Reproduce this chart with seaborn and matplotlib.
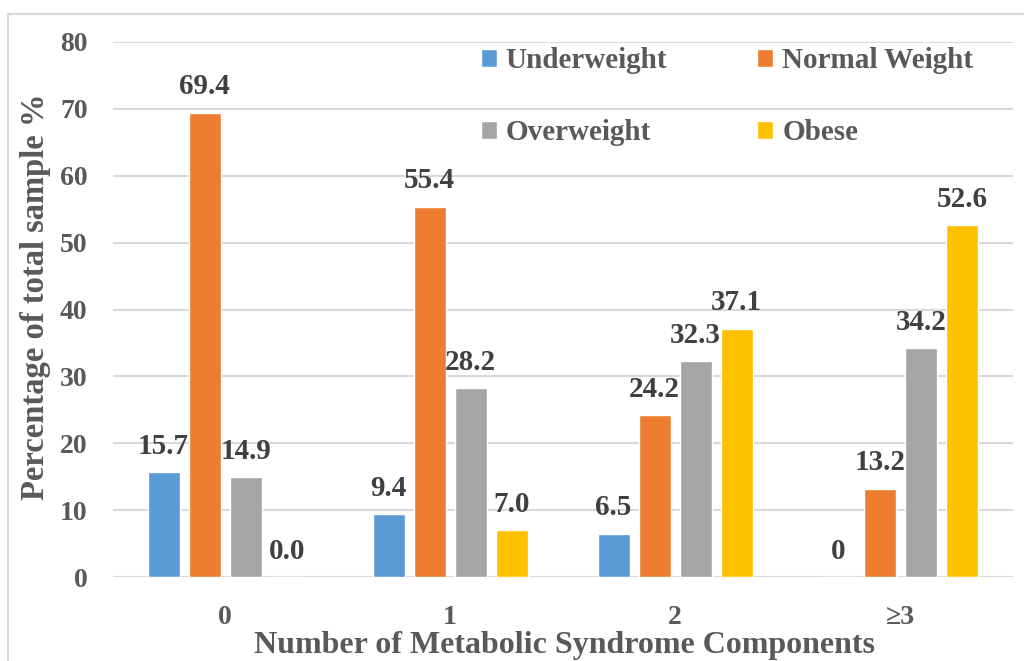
import matplotlib
matplotlib.use("Agg")
import matplotlib.pyplot as plt
import seaborn as sns
import pandas as pd
from matplotlib.patches import Rectangle

# Daten
groups = ["0", "1", "2", "≥3"]
series = ["Underweight", "Normal Weight", "Overweight", "Obese"]
underweight = [15.7, 9.4, 6.5, 0]
normal_weight = [69.4, 55.4, 24.2, 13.2]
overweight = [14.9, 28.2, 32.3, 34.2]
obese = [0.0, 7.0, 37.1, 52.6]
label_text = {
    "Underweight": ["15.7", "9.4", "6.5", "0"],
    "Normal Weight": ["69.4", "55.4", "24.2", "13.2"],
    "Overweight": ["14.9", "28.2", "32.3", "34.2"],
    "Obese": ["0.0", "7.0", "37.1", "52.6"],
}
colors = ["#5B9BD5", "#ED7D31", "#A5A5A5", "#FFC000"]

df = pd.DataFrame({
    "gruppe": groups * 4,
    "kategorie": [s for s in series for _ in groups],
    "wert": underweight + normal_weight + overweight + obese,
})

sns.set_style("white")
plt.rcParams["font.family"] = ["Liberation Serif", "DejaVu Serif"]
plt.rcParams["font.weight"] = "bold"

text_grey = "#595959"
label_grey = "#404040"

fig = plt.figure(figsize=(10.24, 6.61), dpi=100)
ax = fig.add_axes([0.110, 0.127, 0.879, 0.8095])

# Rahmen um das Diagramm
fig.patches.append(Rectangle((8 / 1024, -0.1), 1.2, 1 - 14 / 661 + 0.1,
                             transform=fig.transFigure, fill=False,
                             edgecolor="#d9d9d9", linewidth=1.5))

sns.barplot(data=df, x="gruppe", y="wert", hue="kategorie", order=groups,
            hue_order=series, palette=colors, width=0.73, gap=0.22,
            saturation=1, ax=ax)

for cont, name in zip(ax.containers, series):
    for bar, txt in zip(cont, label_text[name]):
        ax.annotate(txt, (bar.get_x() + bar.get_width() / 2, bar.get_height()),
                    xytext=(0, 9), textcoords="offset points",
                    ha="center", va="bottom", fontsize=21,
                    fontweight="bold", color=label_grey)

ax.set_ylim(0, 80)
ax.set_yticks(range(0, 81, 10))
ax.grid(axis="y", color="#d9d9d9", linewidth=1.5)
ax.set_axisbelow(True)
for s in ax.spines.values():
    s.set_visible(False)
ax.tick_params(axis="both", length=0, labelsize=20, labelcolor=text_grey)
ax.tick_params(axis="y", pad=18)
ax.tick_params(axis="x", pad=20)
for t in ax.get_xticklabels() + ax.get_yticklabels():
    t.set_fontweight("bold")

ax.set_xlabel("Number of Metabolic Syndrome Components", fontsize=23,
              fontweight="bold", color=text_grey, va="center")
ax.xaxis.set_label_coords(0.502, -0.127)
ax.set_ylabel("Percentage of total sample %", fontsize=23.5,
              fontweight="bold", color=text_grey, va="center")
ax.yaxis.set_label_coords(-0.086, 0.523)

# Legende zeilenweise anordnen
handles, labels = ax.get_legend_handles_labels()
idx = [0, 2, 1, 3]
leg = ax.legend([handles[i] for i in idx], [labels[i] for i in idx],
                loc="upper left", bbox_to_anchor=(0.396, 1.012), ncol=2,
                frameon=False, fontsize=21, handlelength=0.55,
                handleheight=0.55, handletextpad=0.3, columnspacing=3.1,
                labelspacing=1.55, borderaxespad=0)
for t in leg.get_texts():
    t.set_color(text_grey)
    t.set_fontweight("bold")

fig.savefig("out.png", dpi=100)
